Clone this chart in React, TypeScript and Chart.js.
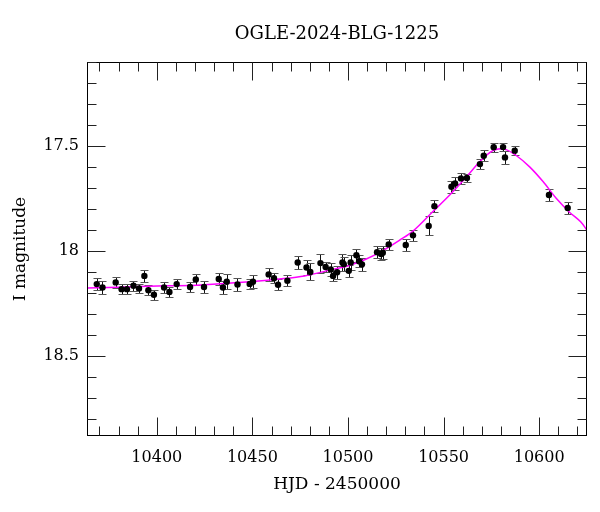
import React, { useEffect, useRef } from 'react';
import { Chart, registerables } from 'chart.js';

Chart.register(...registerables);

const TITLE = 'OGLE-2024-BLG-1225';
const X_LABEL = 'HJD - 2450000';
const Y_LABEL = 'I magnitude';

const X_MIN = 10363.5;
const X_MAX = 10625;
const Y_MIN = 17.1;
const Y_MAX = 18.88;
const X_TICKS = [10400, 10450, 10500, 10550, 10600];
const Y_TICKS = [17.5, 18, 18.5];

const obsHJD = [
  10368.6, 10371.6, 10378.5, 10381.6, 10384.4, 10387.8, 10390.7, 10393.5, 10395.6, 10398.5,
  10403.8, 10406.6, 10410.4, 10417.4, 10420.4, 10424.7, 10432.4, 10434.6, 10436.6, 10442.2,
  10448.6, 10450.3, 10458.5, 10461.3, 10463.4, 10468.3, 10473.7, 10478.3, 10480.3, 10485.6,
  10488.3, 10491.0, 10492.2, 10494.3, 10497.1, 10497.8, 10500.4, 10501.4, 10504.4, 10505.8,
  10507.3, 10515.2, 10517.3, 10518.2, 10521.3, 10530.2, 10534.0, 10542.2, 10545.2, 10554.1,
  10556.0, 10559.1, 10562.2, 10569.0, 10571.0, 10576.2, 10581.1, 10582.1, 10587.2, 10605.1,
  10614.9,
];
const obsMag = [
  18.157, 18.173, 18.149, 18.181, 18.181, 18.165, 18.178, 18.118, 18.186, 18.208,
  18.173, 18.195, 18.157, 18.171, 18.135, 18.171, 18.133, 18.173, 18.146, 18.159,
  18.156, 18.146, 18.111, 18.129, 18.160, 18.141, 18.054, 18.078, 18.099, 18.057,
  18.076, 18.087, 18.118, 18.101, 18.054, 18.062, 18.094, 18.054, 18.020, 18.048,
  18.063, 18.005, 18.014, 18.008, 17.968, 17.971, 17.925, 17.880, 17.786, 17.694,
  17.678, 17.654, 17.652, 17.586, 17.546, 17.506, 17.505, 17.554, 17.522, 17.733,
  17.795,
];
const obsErr = [
  0.03, 0.03, 0.025, 0.025, 0.025, 0.025, 0.02, 0.03, 0.025, 0.025,
  0.025, 0.025, 0.025, 0.025, 0.025, 0.03, 0.03, 0.03, 0.035, 0.03,
  0.025, 0.03, 0.03, 0.025, 0.025, 0.025, 0.03, 0.035, 0.04, 0.045,
  0.025, 0.03, 0.025, 0.03, 0.04, 0.035, 0.03, 0.035, 0.03, 0.03,
  0.03, 0.03, 0.03, 0.03, 0.025, 0.03, 0.025, 0.045, 0.03, 0.03,
  0.03, 0.025, 0.02, 0.025, 0.025, 0.02, 0.02, 0.03, 0.02, 0.03,
  0.03,
];

const modelHJD = [
  10363.5, 10380, 10396, 10421, 10448.6, 10464, 10477.3, 10492, 10501, 10509,
  10518, 10527, 10534, 10544.3, 10553.2, 10562, 10569, 10574.3, 10577, 10580,
  10583, 10588, 10595, 10602, 10609, 10616, 10621.8, 10625,
];
const modelMag = [
  18.176, 18.172, 18.167, 18.162, 18.146, 18.133, 18.118, 18.087, 18.067, 18.040,
  17.999, 17.948, 17.905, 17.813, 17.733, 17.646, 17.574, 17.530, 17.518, 17.513,
  17.518, 17.545, 17.599, 17.669, 17.750, 17.816, 17.862, 17.900,
];

const FONT = '"DejaVu Serif", "Liberation Serif", serif';

const errorBars = {
  id: 'errorBars',
  beforeDatasetsDraw(chart: any) {
    const { ctx, scales } = chart;
    const x = scales.x;
    const y = scales.y;
    ctx.save();
    ctx.lineWidth = 1;
    for (let i = 0; i < obsHJD.length; i++) {
      const px = Math.round(x.getPixelForValue(obsHJD[i])) + 0.5;
      const y1 = Math.round(y.getPixelForValue(obsMag[i] - obsErr[i])) + 0.5;
      const y2 = Math.round(y.getPixelForValue(obsMag[i] + obsErr[i])) + 0.5;
      ctx.strokeStyle = '#111';
      ctx.beginPath();
      ctx.moveTo(px, y1);
      ctx.lineTo(px, y2);
      ctx.stroke();
      ctx.strokeStyle = '#555';
      ctx.beginPath();
      ctx.moveTo(px - 4, y1);
      ctx.lineTo(px + 4, y1);
      ctx.moveTo(px - 4, y2);
      ctx.lineTo(px + 4, y2);
      ctx.stroke();
    }
    ctx.restore();
  },
};

const frame = {
  id: 'frame',
  afterDraw(chart: any) {
    const { ctx, chartArea, scales } = chart;
    const { left, right, top, bottom } = chartArea;
    const x = scales.x;
    const y = scales.y;
    const L = Math.round(left) + 0.5;
    const R = Math.round(right) - 0.5;
    const T = Math.round(top) + 0.5;
    const B = Math.round(bottom) - 0.5;
    ctx.save();
    ctx.lineWidth = 1;
    ctx.strokeStyle = '#000';
    ctx.strokeRect(L, T, R - L, B - T);
    ctx.strokeStyle = '#222';
    ctx.beginPath();
    for (let k = Math.ceil(X_MIN / 10); k * 10 <= X_MAX; k++) {
      const v = k * 10;
      const len = v % 50 === 0 ? 18 : 9;
      const px = Math.round(x.getPixelForValue(v)) + 0.5;
      ctx.moveTo(px, B);
      ctx.lineTo(px, B - len);
      ctx.moveTo(px, T);
      ctx.lineTo(px, T + len);
    }
    for (let k = Math.ceil(Y_MIN * 10); k <= Math.floor(Y_MAX * 10); k++) {
      const v = k / 10;
      const len = k % 5 === 0 ? 18 : 9;
      const py = Math.round(y.getPixelForValue(v)) + 0.5;
      ctx.moveTo(L, py);
      ctx.lineTo(L + len, py);
      ctx.moveTo(R, py);
      ctx.lineTo(R - len, py);
    }
    ctx.stroke();
    ctx.fillStyle = '#000';
    ctx.font = '18px ' + FONT;
    ctx.textAlign = 'center';
    ctx.textBaseline = 'middle';
    ctx.fillText(TITLE, (left + right) / 2, 34);
    ctx.restore();
  },
};

export default function App() {
  const ref = useRef<HTMLCanvasElement>(null);
  useEffect(() => {
    if (!ref.current) return;
    const chart = new Chart(ref.current, {
      type: 'scatter',
      data: {
        datasets: [
          {
            label: 'OGLE',
            data: obsHJD.map((h, i) => ({ x: h, y: obsMag[i] })),
            backgroundColor: '#000',
            borderColor: '#000',
            pointRadius: 3.2,
            pointBorderWidth: 0,
            showLine: false,
            order: 1,
          },
          {
            label: 'model',
            data: modelHJD.map((h, i) => ({ x: h, y: modelMag[i] })),
            borderColor: '#ff00ff',
            backgroundColor: '#ff00ff',
            borderWidth: 1.5,
            pointRadius: 0,
            showLine: true,
            cubicInterpolationMode: 'monotone',
            order: 2,
          } as any,
        ],
      },
      options: {
        animation: false,
        responsive: false,
        devicePixelRatio: 1,
        layout: { padding: { top: 62, right: 13, left: 0, bottom: 0 } },
        plugins: {
          legend: { display: false },
          tooltip: { enabled: false },
          title: { display: false },
        },
        scales: {
          x: {
            type: 'linear',
            min: X_MIN,
            max: X_MAX,
            afterBuildTicks: (s: any) => {
              s.ticks = X_TICKS.map((v) => ({ value: v }));
            },
            afterFit: (s: any) => {
              s.height = 76;
            },
            grid: { display: false, drawTicks: false },
            border: { display: false },
            ticks: {
              color: '#000',
              font: { family: FONT, size: 16 },
              padding: 12,
              maxRotation: 0,
              callback: (v: any) => String(v),
            },
            title: {
              display: true,
              text: X_LABEL,
              color: '#000',
              font: { family: FONT, size: 17 },
              padding: { top: 0, bottom: 17 },
            },
          },
          y: {
            type: 'linear',
            reverse: true,
            min: Y_MIN,
            max: Y_MAX,
            afterBuildTicks: (s: any) => {
              s.ticks = Y_TICKS.map((v) => ({ value: v }));
            },
            afterFit: (s: any) => {
              s.width = 87;
            },
            grid: { display: false, drawTicks: false },
            border: { display: false },
            ticks: {
              color: '#000',
              font: { family: FONT, size: 16 },
              padding: 8,
              callback: (v: any) => String(v),
            },
            title: {
              display: true,
              text: Y_LABEL,
              color: '#000',
              font: { family: FONT, size: 17 },
              padding: { top: 10, bottom: 0 },
            },
          },
        },
      } as any,
      plugins: [errorBars, frame],
    });
    return () => chart.destroy();
  }, []);
  return (
    <div style={{ position: 'absolute', left: 0, top: 0, width: 600, height: 512, background: '#fff' }}>
      <canvas ref={ref} width={600} height={512} />
    </div>
  );
}
